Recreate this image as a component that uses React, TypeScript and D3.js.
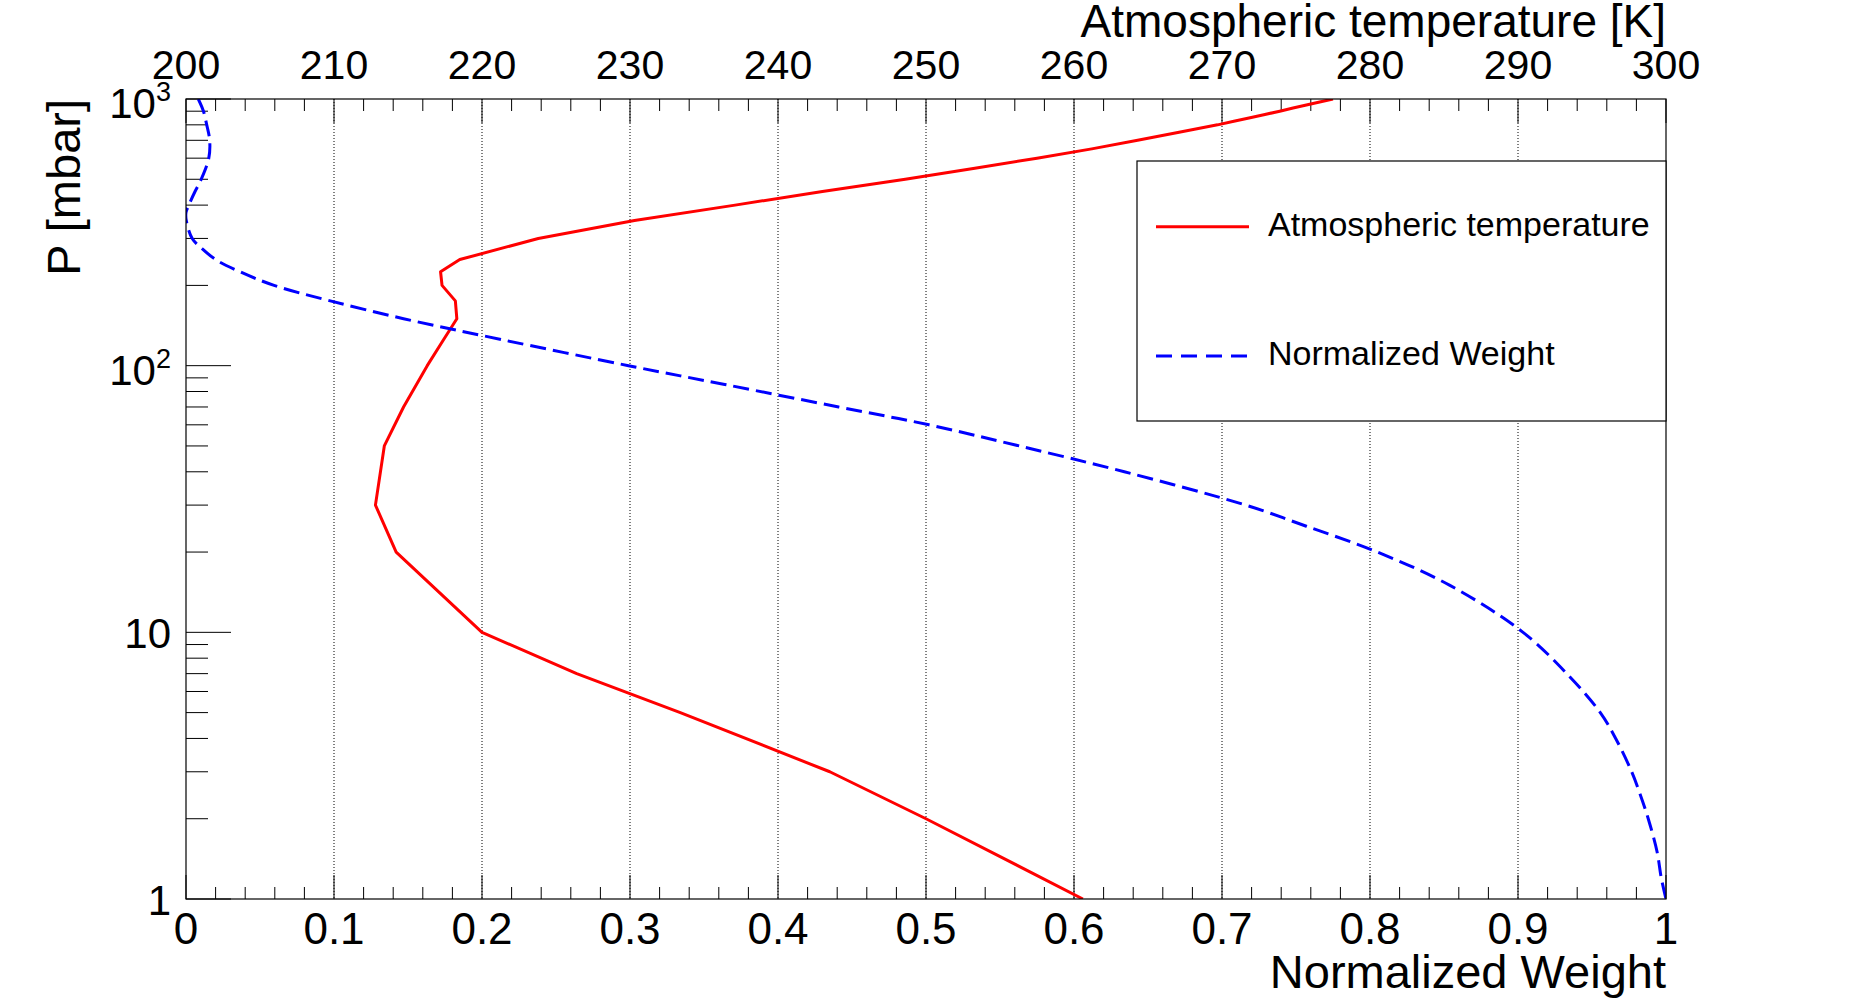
import React from "react";
import * as d3 from "d3";

// pressure levels [mbar] and atmospheric temperature [K]
const pressureLevels = [
  1000, 975, 950, 925, 900, 875, 850, 825, 800, 775, 750, 700, 650, 600, 550,
  500, 450, 400, 350, 300, 250, 225, 200, 175, 150, 125, 100, 70, 50, 30, 20,
  10, 7, 5, 3, 2, 1,
];
const temperature = [
  277.5, 276.6, 275.7, 274.8, 273.9, 272.9, 271.9, 270.8, 269.7, 268.4, 267.1,
  264.3, 261.2, 257.5, 253.3, 248.6, 243.0, 237.1, 230.3, 223.8, 218.5, 217.2,
  217.3, 218.2, 218.3, 217.4, 216.3, 214.7, 213.4, 212.8, 214.2, 220.0, 226.4,
  233.4, 243.5, 250.0, 260.6,
];

// normalized weight vs pressure
const weightPressure = [
  1000, 900, 800, 700, 600, 500, 450, 400, 375, 350, 300, 275, 250, 225, 200,
  175, 150, 125, 100, 85, 70, 60, 50, 40, 30, 25, 20, 15, 10, 7, 5, 4, 3, 2.5,
  2, 1.5, 1.2, 1,
];
const weightValues = [
  0.0083, 0.0118, 0.014, 0.016, 0.0154, 0.0103, 0.0061, 0.0019, 0.0, 0.0002,
  0.0042, 0.0108, 0.02, 0.0365, 0.0595, 0.0975, 0.147, 0.214, 0.299, 0.364,
  0.441, 0.502, 0.563, 0.634, 0.716, 0.757, 0.805, 0.854, 0.9034, 0.933,
  0.9556, 0.966, 0.9768, 0.9822, 0.988, 0.994, 0.9968, 1.0,
];

const bottomLabels = ["0", "0.1", "0.2", "0.3", "0.4", "0.5", "0.6", "0.7", "0.8", "0.9", "1"];
const topLabels = ["200", "210", "220", "230", "240", "250", "260", "270", "280", "290", "300"];
const leftLabels = [
  { v: 1, base: "1", sup: "" },
  { v: 10, base: "10", sup: "" },
  { v: 100, base: "10", sup: "2" },
  { v: 1000, base: "10", sup: "3" },
];

const W = 1851;
const H = 999;
const FONT = "'Liberation Sans', Arial, Helvetica, sans-serif";

export default function App() {
  const left = 186, right = 1666, top = 99, bottom = 899;

  const x = d3.scaleLinear().domain([0, 1]).range([left, right]);
  const xT = d3.scaleLinear().domain([200, 300]).range([left, right]);
  const y = d3.scaleLog().domain([1, 1000]).range([bottom, top]);

  const tempPts = pressureLevels.map((p, i) => ({ p, t: temperature[i] }));
  const weightPts = weightPressure.map((p, i) => ({ p, w: weightValues[i] }));

  const tempLine = d3
    .line<any>()
    .x((d) => xT(d.t))
    .y((d) => y(d.p));
  const weightLine = d3
    .line<any>()
    .x((d) => x(d.w))
    .y((d) => y(d.p))
    .curve(d3.curveCatmullRom.alpha(0.5));

  const bottomMinor = x.ticks(50);
  const bottomMajor = x.ticks(10);
  const topMinor = xT.ticks(50);
  const topMajor = xT.ticks(10);
  const leftTicks = y.ticks();

  const legendX = 1137, legendY = 161, legendW = right - 1137, legendH = 260;

  return (
    <svg
      width={W}
      height={H}
      style={{ position: "absolute", left: 0, top: 0, background: "#fff" }}
      fontFamily={FONT}
    >
      <defs>
        <clipPath id="frame">
          <rect x={left} y={top} width={right - left} height={bottom - top} />
        </clipPath>
      </defs>
      <rect x={0} y={0} width={W} height={H} fill="#fff" />

      {/* grid */}
      {bottomMajor.slice(1, -1).map((v) => (
        <line
          key={"g" + v}
          x1={x(v)}
          x2={x(v)}
          y1={top}
          y2={bottom}
          stroke="#000"
          strokeWidth={1}
          strokeDasharray="1 2"
        />
      ))}

      {/* bottom axis ticks */}
      {bottomMinor.map((v) => {
        const major = bottomMajor.some((m) => Math.abs(m - v) < 1e-9);
        return (
          <line key={"b" + v} x1={x(v)} x2={x(v)} y1={bottom} y2={bottom - (major ? 24 : 12)} stroke="#000" strokeWidth={1} />
        );
      })}
      {bottomMajor.map((v, i) => (
        <text key={"bl" + v} x={x(v)} y={944} fontSize={44} textAnchor="middle">
          {bottomLabels[i]}
        </text>
      ))}

      {/* top axis ticks */}
      {topMinor.map((v) => {
        const major = topMajor.some((m) => Math.abs(m - v) < 1e-9);
        return (
          <line key={"t" + v} x1={xT(v)} x2={xT(v)} y1={top} y2={top + (major ? 24 : 12)} stroke="#000" strokeWidth={1} />
        );
      })}
      {topMajor.map((v, i) => (
        <text key={"tl" + v} x={xT(v)} y={79} fontSize={41} textAnchor="middle">
          {topLabels[i]}
        </text>
      ))}

      {/* left axis ticks (log) */}
      {leftTicks.map((v) => {
        const major = Math.abs(Math.log10(v) - Math.round(Math.log10(v))) < 1e-9;
        return (
          <line key={"l" + v} x1={left} x2={left + (major ? 45 : 22)} y1={y(v)} y2={y(v)} stroke="#000" strokeWidth={1} />
        );
      })}
      {leftLabels.map((d) => (
        <text key={"ll" + d.v} x={171} y={y(d.v) + (d.sup ? 19 : 16)} fontSize={42} textAnchor="end">
          {d.base}
          {d.sup ? (
            <tspan fontSize={27} dy={-17}>
              {d.sup}
            </tspan>
          ) : null}
        </text>
      ))}

      {/* curves */}
      <g clipPath="url(#frame)">
        <path d={tempLine(tempPts) || ""} fill="none" stroke="#ff0000" strokeWidth={3} strokeLinejoin="round" />
        <path d={weightLine(weightPts) || ""} fill="none" stroke="#0000ff" strokeWidth={3} strokeDasharray="16 7" />
      </g>

      {/* frame */}
      <rect x={left} y={top} width={right - left} height={bottom - top} fill="none" stroke="#000" strokeWidth={1.2} />

      {/* axis titles */}
      <text x={right} y={37} fontSize={46} textAnchor="end">
        Atmospheric temperature [K]
      </text>
      <text x={right} y={988} fontSize={47} textAnchor="end">
        Normalized Weight
      </text>
      <text transform={`translate(80,${top}) rotate(-90)`} fontSize={47} textAnchor="end">
        P [mbar]
      </text>

      {/* legend */}
      <rect x={legendX} y={legendY} width={legendW} height={legendH} fill="#fff" stroke="#000" strokeWidth={1.2} />
      <line x1={1156} x2={1249} y1={226.7} y2={226.7} stroke="#ff0000" strokeWidth={3} />
      <text x={1268} y={235.5} fontSize={34}>
        Atmospheric temperature
      </text>
      <line x1={1156} x2={1249} y1={356} y2={356} stroke="#0000ff" strokeWidth={3} strokeDasharray="16 9" />
      <text x={1268} y={365} fontSize={34}>
        Normalized Weight
      </text>
    </svg>
  );
}
